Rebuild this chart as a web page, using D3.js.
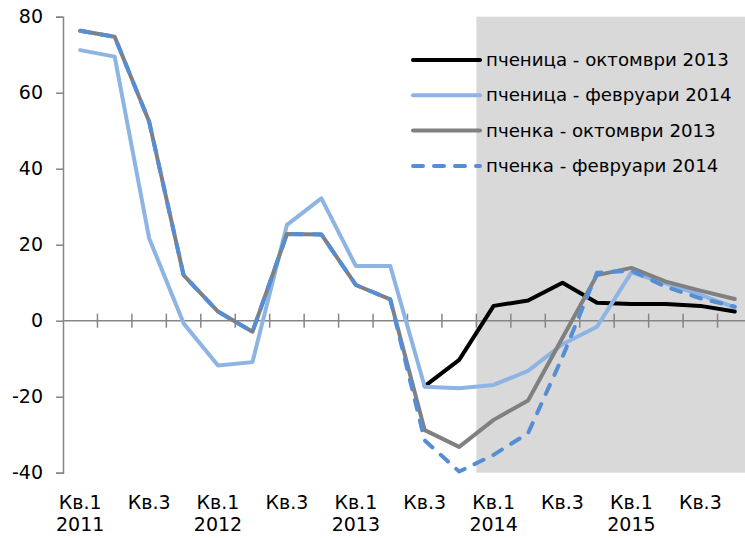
<!DOCTYPE html>
<html><head><meta charset="utf-8">
<script src="https://cdn.jsdelivr.net/npm/d3@7"></script>
<style>body{margin:0;background:#fff;} svg{display:block;font-family:"DejaVu Sans",Verdana,sans-serif;}</style>
</head><body>
<svg id="c" width="745" height="538"></svg>
<script>
const quarters = ["Кв.1|2011","Кв.2|2011","Кв.3|2011","Кв.4|2011","Кв.1|2012","Кв.2|2012","Кв.3|2012","Кв.4|2012","Кв.1|2013","Кв.2|2013","Кв.3|2013","Кв.4|2013","Кв.1|2014","Кв.2|2014","Кв.3|2014","Кв.4|2014","Кв.1|2015","Кв.2|2015","Кв.3|2015","Кв.4|2015"];
const wheatOct13 = [null,null,null,null,null,null,null,null,null,null,-17.2,-10.3,3.9,5.3,10.0,4.7,4.4,4.4,3.9,2.4];
const wheatFeb14 = [71.2,69.5,21.7,-0.7,-11.8,-10.9,25.2,32.2,14.4,14.4,-17.4,-17.8,-16.9,-13.2,-6.2,-1.6,12.7,9.8,6.8,3.5];
const maizeOct13 = [76.3,74.7,52.4,12.0,2.4,-2.9,22.8,22.7,9.4,5.6,-28.8,-33.2,-26.1,-21.0,-4.5,12.0,13.9,10.3,7.9,5.7];
const maizeFeb14 = [76.3,74.7,52.4,12.0,2.4,-2.9,22.8,22.7,9.4,5.6,-31.5,-39.7,-35.3,-29.6,-9.5,12.6,13.2,8.9,5.9,3.7];
const yTicks = [-40,-20,0,20,40,60,80];
const seriesNames = ["пченица - октомври 2013","пченица - февруари 2014","пченка - октомври 2013","пченка - февруари 2014"];
const projectionStart = "Кв.1|2014";

const series = [
  {name: seriesNames[0], values: wheatOct13, color:"#000000", dash:null},
  {name: seriesNames[1], values: wheatFeb14, color:"#8DB4E2", dash:null},
  {name: seriesNames[2], values: maizeOct13, color:"#808080", dash:null},
  {name: seriesNames[3], values: maizeFeb14, color:"#558ED5", dash:"10,11"}
];

const svg = d3.select("#c");
const step = 34.45;
const x = d3.scaleBand().domain(quarters).range([63, 63 + step*quarters.length]).paddingInner(0).paddingOuter(0);
const y = d3.scaleLinear().domain([-40,80]).range([472.7,16.7]);
const axisColor = "#868686";

// shaded projection area
svg.append("rect")
  .attr("x", x(projectionStart)).attr("y", y(80))
  .attr("width", 745 - x(projectionStart)).attr("height", y(-40) - y(80))
  .attr("fill", "#D9D9D9");

// y axis
const yAxis = svg.append("g").attr("transform","translate(63,0)")
  .call(d3.axisLeft(y).tickValues(yTicks).tickSize(7).tickPadding(13).tickFormat(d => String(d)));
yAxis.select(".domain").attr("stroke", axisColor).attr("stroke-width",1.5);
yAxis.selectAll(".tick line").attr("stroke", axisColor).attr("stroke-width",1.5);
yAxis.selectAll(".tick text").attr("font-size", 19).attr("fill","#000").attr("font-family","DejaVu Sans");

// x axis at zero with crossing ticks
const xg = svg.append("g");
xg.append("line").attr("x1",63).attr("x2",x.range()[1]).attr("y1",y(0)).attr("y2",y(0))
  .attr("stroke",axisColor).attr("stroke-width",1.5);
xg.selectAll("line.t").data(quarters).enter().append("line").attr("class","t")
  .attr("x1", d => x(d) + step).attr("x2", d => x(d) + step)
  .attr("y1", y(0)-7).attr("y2", y(0)+7)
  .attr("stroke",axisColor).attr("stroke-width",1.5);

// x labels
const lab = svg.append("g");
quarters.forEach((q,i) => {
  if (i % 2 !== 0) return;
  const parts = q.split("|");
  const cx = x(q) + step/2;
  lab.append("text").attr("x", cx).attr("y", 509).attr("text-anchor","middle")
    .attr("font-size",19).attr("fill","#000").text(parts[0]);
  if (parts[0] === "Кв.1") {
    lab.append("text").attr("x", cx).attr("y", 531).attr("text-anchor","middle")
      .attr("font-size",19).attr("fill","#000").text(parts[1]);
  }
});

// lines
const line = d3.line()
  .defined(d => d.v !== null)
  .x(d => x(d.q) + step/2)
  .y(d => y(d.v));
series.forEach(s => {
  const data = quarters.map((q,i) => ({q, v: s.values[i]}));
  svg.append("path").datum(data).attr("d", line)
    .attr("fill","none").attr("stroke", s.color).attr("stroke-width",4)
    .attr("stroke-linejoin","round").attr("stroke-linecap","round")
    .attr("stroke-dasharray", s.dash);
});

// legend
const lg = svg.append("g");
series.forEach((s,i) => {
  const ly = 60 + i*35.3;
  lg.append("line").attr("x1",413).attr("x2",480).attr("y1",ly).attr("y2",ly)
    .attr("stroke", s.color).attr("stroke-width",4).attr("stroke-linecap","round")
    .attr("stroke-dasharray", s.dash);
  lg.append("text").attr("x",486).attr("y",ly+6).attr("font-size",18.2).attr("fill","#000").text(s.name);
});
</script>
</body></html>
